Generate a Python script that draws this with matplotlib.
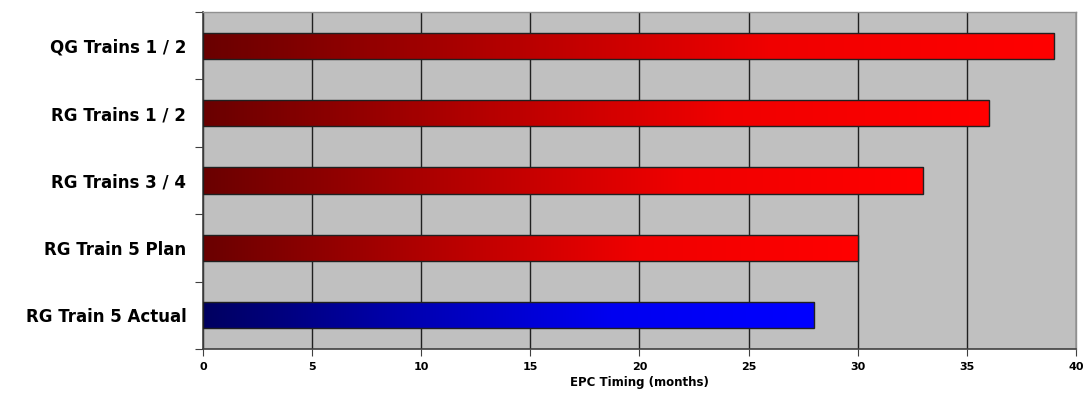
import numpy as np
import matplotlib
matplotlib.use("Agg")
import matplotlib.pyplot as plt
from matplotlib.colors import LinearSegmentedColormap

categories = ["QG Trains 1 / 2", "RG Trains 1 / 2", "RG Trains 3 / 4", "RG Train 5 Plan", "RG Train 5 Actual"]
values = [39, 36, 33, 30, 28]
xticks = [0, 5, 10, 15, 20, 25, 30, 35, 40]

plt.rcParams['font.family'] = ['DejaVu Sans']

fig = plt.figure(figsize=(10.86, 3.94), dpi=100)
ax = fig.add_axes([0.1869, 0.1142, 0.8039, 0.8553])
ax.set_facecolor('#c0c0c0')

n = len(categories)
ypos = np.arange(n)[::-1]
h = 0.39
red = LinearSegmentedColormap.from_list('r', ['#6a0000', '#b00000', '#f00000', '#ff0000'])
blue = LinearSegmentedColormap.from_list('b', ['#000060', '#0000b0', '#0000f0', '#0000ff'])

bars = ax.barh(ypos, values, height=h, color='none', edgecolor='#202020', linewidth=1.0, zorder=3)
grad = np.linspace(0, 1, 256).reshape(1, -1)
for b, v, y, name in zip(bars, values, ypos, categories):
    cmap = blue if 'Actual' in name else red
    im = ax.imshow(grad, cmap=cmap, aspect='auto', extent=(0, v, y - h / 2, y + h / 2), zorder=2, interpolation='bilinear')
    im.set_clip_path(b)

ax.set_xlim(0, 40)
ax.set_ylim(-0.5, n - 0.5)
ax.set_xticks(xticks)
ax.set_xticklabels([str(t) for t in xticks], fontsize=8, fontweight='bold')
ax.xaxis.grid(True, color='#202020', linewidth=1.0, zorder=1)
ax.set_axisbelow(True)

ax.set_yticks(np.arange(-0.5, n, 1.0))
ax.set_yticklabels([])
ax.set_yticks(ypos, minor=True)
ax.set_yticklabels(categories, minor=True, fontsize=12, fontweight='bold')
ax.tick_params(axis='y', which='minor', length=0, pad=12)
ax.tick_params(axis='y', which='major', direction='out', length=6, color='#404040')
ax.tick_params(axis='x', direction='out', length=5, color='#404040', pad=4)

ax.set_xlabel('EPC Timing (months)', fontsize=8.5, fontweight='bold', labelpad=3)

for s in ['left', 'bottom']:
    ax.spines[s].set_color('#404040')
    ax.spines[s].set_linewidth(1.2)
for s in ['top', 'right']:
    ax.spines[s].set_color('#909090')
    ax.spines[s].set_linewidth(1.0)

fig.savefig('out.png', dpi=100, facecolor='white')
